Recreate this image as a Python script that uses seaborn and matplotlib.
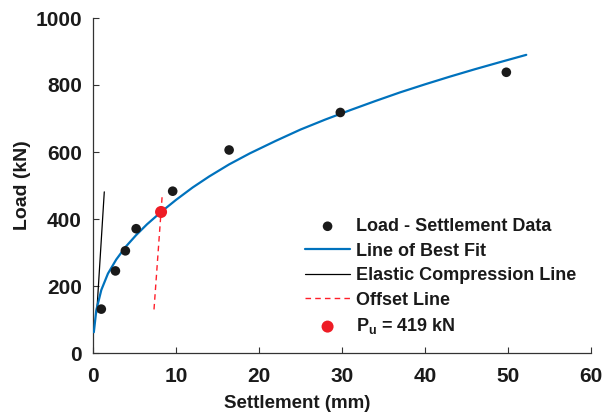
import numpy as np
import pandas as pd
import matplotlib
matplotlib.use("Agg")
import matplotlib.pyplot as plt
import seaborn as sns

# ---- data ----
settle_data = [1.0, 2.7, 3.9, 5.2, 9.6, 16.4, 29.8, 49.8]
load_data = [131, 245, 305, 371, 483, 606, 718, 838]

fit_x = [0.1, 0.4, 1.0, 1.8, 2.8, 3.9, 5.2, 6.5, 8.2, 10.0, 12.0, 14.0, 16.4,
         18.9, 22.0, 25.0, 28.0, 31.0, 34.0, 37.0, 40.0, 43.0, 46.0, 49.0, 52.2]
fit_y = [62, 128, 188, 237, 279, 316, 352, 384, 421, 457, 494, 527, 563,
         596, 633, 667, 697, 725, 752, 778, 802, 825, 847, 868, 890]

elastic_x = [0.45, 1.36]
elastic_y = [120, 481]

offset_x = [7.35, 8.35]
offset_y = [130, 475]

pu_x = [8.2]
pu_y = [421]

xticks = [0, 10, 20, 30, 40, 50, 60]
yticks = [0, 200, 400, 600, 800, 1000]

sns.set_style("ticks")
plt.rcParams["font.family"] = ["Liberation Sans", "DejaVu Sans"]
plt.rcParams["font.weight"] = "bold"
plt.rcParams["mathtext.fontset"] = "custom"
plt.rcParams["mathtext.rm"] = "Liberation Sans:bold"
plt.rcParams["mathtext.bf"] = "Liberation Sans:bold"
plt.rcParams["mathtext.it"] = "Liberation Sans:bold"

fig = plt.figure(figsize=(6.04, 4.15), dpi=100)
ax = fig.add_axes([93 / 604, 1 - 353 / 415, 498 / 604, 335 / 415])

df_data = pd.DataFrame({"x": settle_data, "y": load_data})
df_fit = pd.DataFrame({"x": fit_x, "y": fit_y})
df_el = pd.DataFrame({"x": elastic_x, "y": elastic_y})
df_off = pd.DataFrame({"x": offset_x, "y": offset_y})
df_pu = pd.DataFrame({"x": pu_x, "y": pu_y})

sns.scatterplot(data=df_data, x="x", y="y", ax=ax, color="#1a1a1a", s=48,
                edgecolor="none", label="Load - Settlement Data", zorder=4)
sns.lineplot(data=df_fit, x="x", y="y", ax=ax, color="#0072BD", lw=1.6,
             sort=False, estimator=None, label="Line of Best Fit", zorder=3)
sns.lineplot(data=df_el, x="x", y="y", ax=ax, color="black", lw=0.9,
             sort=False, estimator=None, label="Elastic Compression Line", zorder=2)
sns.lineplot(data=df_off, x="x", y="y", ax=ax, color="#FF1F2A", lw=1.0,
             sort=False, estimator=None, label="Offset Line", zorder=2,
             linestyle=(0, (4, 3)))
sns.scatterplot(data=df_pu, x="x", y="y", ax=ax, color="#EE1C25", s=75,
                edgecolor="none", label=r"P$_{\mathrm{u}}$ = 419 kN", zorder=5)

ax.set_xlim(0, 60)
ax.set_ylim(0, 1000)
ax.set_xticks(xticks)
ax.set_yticks(yticks)
ax.tick_params(direction="in", length=4, width=0.8, color="#333333",
               labelsize=15, labelcolor="#1a1a1a")
ax.tick_params(axis="x", pad=10)
ax.tick_params(axis="y", pad=8)
for lab in ax.get_xticklabels() + ax.get_yticklabels():
    lab.set_fontweight("bold")
sns.despine(ax=ax)
for s in ["left", "bottom"]:
    ax.spines[s].set_color("#333333")
    ax.spines[s].set_linewidth(0.9)

ax.set_xlabel("Settlement (mm)", fontsize=13.5, fontweight="bold", color="#1a1a1a")
ax.set_ylabel("Load (kN)", fontsize=14, fontweight="bold", color="#1a1a1a", labelpad=3)
ax.xaxis.set_label_coords((297 - 93) / 498, -0.125)

leg = ax.legend(loc="upper left", bbox_to_anchor=(305 / 604, 1 - 218 / 415),
                bbox_transform=fig.transFigure, frameon=False, fontsize=13,
                handlelength=2.5, handletextpad=0.3, labelspacing=0.42,
                borderpad=0, borderaxespad=0)
for t in leg.get_texts():
    t.set_fontweight("bold")
    t.set_color("#1a1a1a")

fig.savefig("out.png", dpi=100)
